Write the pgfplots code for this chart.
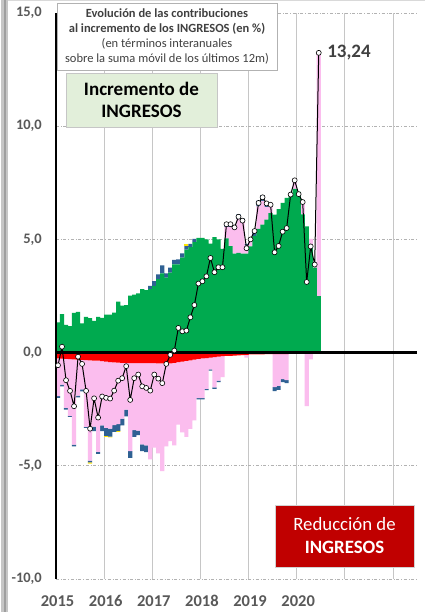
\documentclass[border=0pt]{standalone}
\usepackage{fontspec}
\setmainfont{Carlito}[Numbers={Lining,Monospaced}]
\usepackage{pgfplots}
\pgfplotsset{compat=1.18}
\usepackage{pgfplotstable}

\definecolor{cgreen}{HTML}{00AA4F}
\definecolor{cpink}{HTML}{FBBDEE}
\definecolor{cblue}{HTML}{2F6193}
\definecolor{cyellow}{HTML}{FFE600}
\definecolor{cred}{HTML}{FF0000}
\definecolor{boxred}{HTML}{C00000}
\definecolor{boxgreen}{HTML}{E2EFDA}
\definecolor{tgray}{HTML}{595959}
\definecolor{dgray}{HTML}{404040}

\pgfplotstableread{
x g pp bp yp r pn bn yn t
0.5 1.34 0 0 0 -0.25 -1.67 -0.08 0 -0.56
1.5 1.70 0 0 0 -0.27 -1.14 -0.08 0 0.26
2.5 1.22 0 0 0 -0.28 -2.16 -0.08 0 -1.22
3.5 1.17 0 0 0 -0.29 -2.50 -0.05 0 -1.69
4.5 1.75 0 0 0 -0.30 -3.76 -0.08 0 -2.37
5.5 1.80 0 0 0 -0.31 -1.59 -0.08 0 -0.18
6.5 1.29 0 0 0 -0.32 -1.31 -0.08 0 -0.50
7.5 1.58 0 0 0 -0.33 -2.95 -0.05 0 -1.69
8.5 1.52 0 0 0 -0.34 -4.43 -0.08 -0.05 -3.36
9.5 1.40 0 0 0 -0.35 -2.92 -0.20 0 -2.02
10.5 1.58 0 0 0 -0.36 -4.03 -0.08 0 -2.87
11.5 1.53 0 0 0 -0.38 -2.84 -0.25 0 -1.94
12.5 1.68 0 0 0 -0.40 -2.93 -0.35 -0.04 -2.00
13.5 1.68 0 0 0 -0.42 -2.94 -0.35 -0.04 -2.03
14.5 1.77 0 0 0 -0.43 -2.77 -0.30 0 -1.68
15.5 2.25 0 0 0 -0.44 -2.72 -0.30 -0.04 -1.24
16.5 2.07 0 0 0 -0.45 -2.47 -0.30 0 -1.13
17.5 2.10 0 0 0 -0.45 -2.07 -0.30 0 -0.60
18.5 2.52 0 0 0 -0.46 -3.89 -0.30 0 -2.09
19.5 2.56 0 0 0 -0.46 -2.96 -0.30 0 -1.13
20.5 2.62 0 0 0 -0.46 -2.99 -0.20 0 -0.97
21.5 2.80 0 0 0 -0.47 -3.58 -0.30 0 -1.49
22.5 2.76 0 0 0 -0.47 -3.63 -0.30 0 -1.56
23.5 2.80 0 0.15 0 -0.47 -4.25 0 0 -1.68
24.5 2.95 0 0.21 0 -0.47 -3.73 0 0 -0.97
25.5 3.24 0 0.22 0 -0.48 -3.97 0 0 -1.15
26.5 3.50 0 0.35 0 -0.48 -4.76 0 0 -1.35
27.5 3.31 0 0.19 0 -0.48 -3.66 0 0 -0.50
28.5 3.53 0 0.22 0 -0.48 -3.43 0 0 -0.10
29.5 3.90 0 0.20 0 -0.45 -3.65 0 0 0.09
30.5 3.90 0 0.22 0 -0.42 -2.76 0 0 1.09
31.5 4.19 0 0.19 0 -0.40 -3.12 0 0 0.94
32.5 4.55 0 0.15 0.08 -0.37 -3.35 0 0 0.97
33.5 4.66 0 0.14 0 -0.34 -3.03 0 0 1.56
34.5 4.88 0 0.14 0 -0.31 -2.68 0 0 2.10
35.5 5.07 0 0 0 -0.28 -1.73 -0.06 0 3.05
36.5 5.07 0 0 0 -0.26 -1.75 -0.06 0 3.15
37.5 5.00 0 0 0 -0.24 -1.36 -0.06 0 3.37
38.5 4.81 0 0 0 -0.22 -0.52 -0.06 0 4.18
39.5 5.10 0 0 0 -0.20 -1.34 -0.06 0 3.55
40.5 5.00 0 0 0 -0.18 -1.06 -0.06 0 3.77
41.5 4.58 0 0 0 -0.16 -0.92 0 0 3.77
42.5 5.05 0.50 0.15 0 -0.15 0 0 0 5.67
43.5 4.70 0.85 0.15 0 -0.14 0 0 0 5.67
44.5 4.37 1.10 0.15 0 -0.13 0 0 0 5.53
45.5 4.40 1.50 0.20 0 -0.12 0 0 0 6.00
46.5 4.37 1.45 0.10 0 -0.11 0 0 0 5.83
47.5 4.37 0.35 0.08 0 -0.10 -0.12 0 0 4.61
48.5 4.69 0.33 0 0 -0.08 0 0 0 5.00
49.5 5.15 0 0.28 0 -0.08 0 0 0 5.37
50.5 5.46 1.00 0.25 0 -0.08 0 0 0 6.61
51.5 5.65 1.05 0.25 0 -0.08 0 0 0 6.86
52.5 5.87 0.55 0.20 0 -0.07 0 0 0 6.59
53.5 6.16 0.45 0 0 -0.07 0 0 0 6.53
54.5 6.09 0 0 0 -0.07 -1.45 -0.18 0 4.43
55.5 6.34 0 0 0 -0.07 -1.40 -0.18 0 4.71
56.5 6.61 0 0 0 -0.07 -1.10 -0.13 0 5.34
57.5 6.83 0 0 0 -0.07 -1.15 -0.13 0 5.50
58.5 6.95 0 0 0 -0.05 0 0 0 6.98
59.5 7.23 0.45 0 0 -0.06 0 0 0 7.61
60.5 7.10 0 0 0 -0.06 0 0 0 7.00
61.5 6.10 0.60 0 0 -0.05 0 0 0 6.65
62.5 5.58 0 0 0 -0.06 -2.30 0 0 3.12
63.5 4.62 0.40 0 0 -0.05 -0.25 0 0 4.69
64.5 3.75 0.15 0 0 -0.05 0 0 0 3.89
65.5 2.49 10.75 0 0 0 0 0 0 13.24
}\data

\pgfplotsset{
  base/.style={
    scale only axis, width=361pt, height=566pt,
    xmin=0, xmax=90, ymin=-10, ymax=15,
    at={(56pt,33pt)}, anchor=south west,
  },
  bars/.style={ybar stacked, bar width=1.05, bar shift=0pt},
}
\tikzset{
  yearlab/.style={anchor=base, inner sep=0pt, yshift=-27.5pt, xshift=1.5pt,
    font=\bfseries\fontsize{16.5}{16.5}\selectfont, text=tgray},
}

\begin{document}
\begin{tikzpicture}
\path[use as bounding box] (0,0) rectangle (425pt,612pt);
\fill[white] (0,0) rectangle (425pt,612pt);
\fill[gray!45] (1pt,0) rectangle (8pt,612pt);
\draw[gray!75, line width=2pt] (4.5pt,0) -- (4.5pt,612pt);
\draw[gray!30, line width=1pt] (8pt,611.5pt) -- (425pt,611.5pt);

% axis 1: grid, ticks, negative stack
\begin{axis}[base, bars,
  axis line style={draw=none},
  major tick length=0pt,
  xtick={0,12,...,84},
  xticklabels={},
  ytick={-10,-5,0,5,10,15},
  yticklabels={{-10,0},{-5,0},{0,0},{5,0},{10,0},{15,0}},
  xmajorgrids, ymajorgrids,
  x grid style={gray!45, line width=0.8pt},
  y grid style={gray!60, dash dot, line width=0.6pt},
  yticklabel style={font=\bfseries\fontsize{14.5}{14.5}\selectfont, text=tgray, anchor=east, inner sep=0pt, xshift=-14pt},
]
\addplot[fill=cred, draw=none] table[x=x,y=r]{\data};
\addplot[fill=cpink, draw=none] table[x=x,y=pn]{\data};
\addplot[fill=cblue, draw=none] table[x=x,y=bn]{\data};
\addplot[fill=cyellow, draw=none] table[x=x,y=yn]{\data};
\end{axis}

% axis 2: positive stack
\begin{axis}[base, bars, hide axis]
\addplot[fill=cgreen, draw=none] table[x=x,y=g]{\data};
\addplot[fill=cpink, draw=none] table[x=x,y=pp]{\data};
\addplot[fill=cblue, draw=none] table[x=x,y=bp]{\data};
\addplot[fill=cyellow, draw=none] table[x=x,y=yp]{\data};
\end{axis}

% axis 3: axis lines and total line
\begin{axis}[base, hide axis, clip=false]
\draw[black, line width=2pt] (axis cs:0,-10) -- (axis cs:0,15);
\draw[black, line width=2.2pt] (axis cs:0,0) -- (axis cs:90,0);
\addplot[black, line width=1pt, mark=*, mark size=2.5pt,
  mark options={fill=white, draw=black, line width=0.6pt}]
  table[x=x,y=t]{\data};
\node[anchor=west, xshift=5pt, font=\bfseries\fontsize{19}{19}\selectfont, text=dgray] at (axis cs:65.5,13.24) {13,24};
\node[yearlab] at (axis cs:0,-10) {2015};
\node[yearlab] at (axis cs:12,-10) {2016};
\node[yearlab] at (axis cs:24,-10) {2017};
\node[yearlab] at (axis cs:36,-10) {2018};
\node[yearlab] at (axis cs:48,-10) {2019};
\node[yearlab] at (axis cs:60,-10) {2020};
\end{axis}

\node[draw=gray!60, fill=white, line width=0.6pt, minimum width=220pt, minimum height=67pt,
  align=center, text=dgray, inner sep=0pt, font=\fontsize{12.5}{15}\selectfont]
  at (167pt,575.5pt)
  {\textbf{Evolución de las contribuciones}\\\textbf{al incremento de los INGRESOS (en \%)}\\(en términos interanuales\\sobre la suma móvil de los últimos 12m)};

\node[draw=gray!45, fill=boxgreen, line width=0.6pt, minimum width=151pt, minimum height=54pt,
  align=center, text=black, inner sep=0pt, font=\bfseries\fontsize{19}{21.7}\selectfont]
  at (141.5pt,512pt) {Incremento de\\INGRESOS};

\node[draw=gray!35, fill=boxred, line width=0.6pt, minimum width=139pt, minimum height=62pt,
  align=center, text=white, inner sep=0pt, font=\fontsize{18.8}{23}\selectfont]
  at (344.5pt,76pt) {Reducción de\\\textbf{INGRESOS}};
\end{tikzpicture}
\end{document}
